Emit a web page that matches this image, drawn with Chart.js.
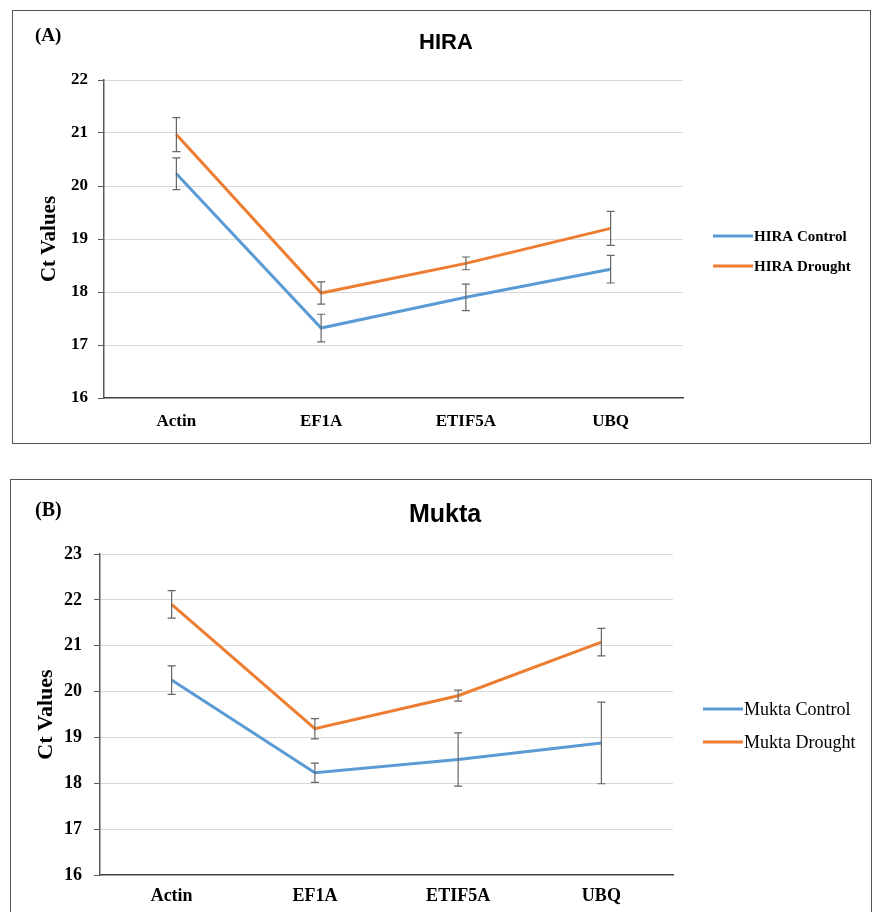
<!DOCTYPE html>
<html>
<head>
<meta charset="utf-8">
<script src="https://cdn.jsdelivr.net/npm/chart.js@4.4.1/dist/chart.umd.min.js"></script>
<style>
  body { margin: 0; background: #fff; width: 873px; height: 912px; overflow: hidden; position: relative; }
  .panel { position: absolute; border: 1px solid #555; background: #fff; }
  .panel canvas { position: absolute; left: 0; top: 0; }
  .tag { position: absolute; font-family: "Liberation Serif", serif; font-weight: bold; z-index: 2; }
  .title { position: absolute; width: 300px; text-align: center; font-family: "Liberation Sans", Arial, sans-serif; font-weight: bold; z-index: 2; }
</style>
</head>
<body>
<div class="panel" style="left:12px; top:10px; width:857px; height:432px;">
  <div class="tag" style="left:22px; top:13px; font-size:19px;">(A)</div>
  <div class="title" style="left:283px; top:18px; font-size:22px; line-height:26px;">HIRA</div>
  <canvas id="chartA" width="857" height="432"></canvas>
</div>
<div class="panel" style="left:10px; top:479px; width:860px; height:440px;">
  <div class="tag" style="left:24px; top:18px; font-size:20px;">(B)</div>
  <div class="title" style="left:284px; top:18px; font-size:25px; line-height:30px;">Mukta</div>
  <canvas id="chartB" width="860" height="440"></canvas>
</div>
<script>
// data
const categories = ['Actin', 'EF1A', 'ETIF5A', 'UBQ'];

const hiraControl = [20.23, 17.32, 17.9, 18.43];
const hiraControlErr = [0.3, 0.26, 0.25, 0.26];
const hiraDrought = [20.97, 17.98, 18.54, 19.2];
const hiraDroughtErr = [0.32, 0.21, 0.12, 0.32];

const muktaControl = [20.25, 18.23, 18.52, 18.88];
const muktaControlErr = [0.31, 0.21, 0.58, 0.89];
const muktaDrought = [21.9, 19.19, 19.91, 21.08];
const muktaDroughtErr = [0.3, 0.22, 0.12, 0.3];

const blue = '#5B9BD5';
const orange = '#ED7D31';
const serif = '"Liberation Serif", "Times New Roman", serif';

// draws the error bars from dataset.err through the y scale
const errorBars = {
    id: 'errorBars',
    afterDatasetsDraw(chart) {
        const ctx = chart.ctx;
        const yScale = chart.scales.y;
        ctx.save();
        ctx.strokeStyle = '#666';
        ctx.lineWidth = 1.2;
        chart.data.datasets.forEach((ds, i) => {
            const meta = chart.getDatasetMeta(i);
            meta.data.forEach((pt, j) => {
                const e = ds.err[j];
                const top = yScale.getPixelForValue(ds.data[j] + e);
                const bot = yScale.getPixelForValue(ds.data[j] - e);
                ctx.beginPath();
                ctx.moveTo(pt.x, top); ctx.lineTo(pt.x, bot);
                ctx.moveTo(pt.x - 4, top); ctx.lineTo(pt.x + 4, top);
                ctx.moveTo(pt.x - 4, bot); ctx.lineTo(pt.x + 4, bot);
                ctx.stroke();
            });
        });
        ctx.restore();
    }
};

// legend placed to the right, like the excel one
const sideLegend = {
    id: 'sideLegend',
    afterDraw(chart, args, opts) {
        const ctx = chart.ctx;
        ctx.save();
        ctx.font = opts.font;
        ctx.textBaseline = 'middle';
        ctx.fillStyle = '#000';
        chart.data.datasets.forEach((ds, i) => {
            const y = opts.y + i * opts.gap;
            ctx.strokeStyle = ds.borderColor;
            ctx.lineWidth = 3;
            ctx.beginPath();
            ctx.moveTo(opts.x, y);
            ctx.lineTo(opts.x + opts.len, y);
            ctx.stroke();
            ctx.fillText(ds.label, opts.x + opts.len + 1, y + 1);
        });
        ctx.restore();
    }
};

function makeChart(id, cfg) {
    return new Chart(document.getElementById(id).getContext('2d'), {
        type: 'line',
        data: {
            labels: categories,
            datasets: cfg.series.map(s => ({
                label: s.label,
                data: s.data,
                err: s.err,
                borderColor: s.color,
                backgroundColor: s.color,
                borderWidth: 3,
                pointRadius: 0,
                tension: 0
            }))
        },
        options: {
            responsive: false,
            animation: false,
            layout: { padding: { left: 0, right: cfg.padRight, top: cfg.padTop, bottom: 0 } },
            plugins: {
                legend: { display: false },
                tooltip: { enabled: false },
                sideLegend: cfg.legend
            },
            scales: {
                x: {
                    offset: true,
                    grid: { display: false, drawTicks: false },
                    border: { display: true, color: '#404040', width: 1.5 },
                    ticks: { color: '#000', padding: cfg.xPad, font: { family: serif, size: cfg.tickSize, weight: 'bold' } },
                    afterFit: (s) => { s.height = cfg.xHeight; }
                },
                y: {
                    min: cfg.yMin,
                    max: cfg.yMax,
                    ticks: { stepSize: 1, color: '#000', padding: cfg.yPad, font: { family: serif, size: cfg.tickSize, weight: 'bold' } },
                    grid: {
                        color: (c) => c.tick && c.tick.value === cfg.yMin ? 'rgba(0,0,0,0)' : '#d9d9d9',
                        tickColor: '#595959',
                        tickLength: 6,
                        lineWidth: 1
                    },
                    border: { display: true, color: '#595959', width: 1.5 },
                    title: {
                        display: true,
                        text: 'Ct Values',
                        color: '#000',
                        font: { family: serif, size: cfg.yTitleSize, weight: 'bold' },
                        padding: { top: cfg.yTitlePad, bottom: 0 }
                    },
                    afterFit: (s) => { s.width = cfg.yWidth; }
                }
            }
        },
        plugins: [errorBars, sideLegend]
    });
}

makeChart('chartA', {
    padTop: 69,
    yMin: 16, yMax: 22,
    tickSize: 17,
    yTitleSize: 21,
    yTitlePad: 24,
    yWidth: 91,
    yPad: 10,
    xHeight: 45,
    xPad: 13,
    padRight: 187,
    series: [
        { label: 'HIRA Control', data: hiraControl, err: hiraControlErr, color: blue },
        { label: 'HIRA Drought', data: hiraDrought, err: hiraDroughtErr, color: orange }
    ],
    legend: { x: 700, y: 225, gap: 30, len: 40, font: 'bold 15px ' + serif }
});

makeChart('chartB', {
    padTop: 74,
    yMin: 16, yMax: 23,
    tickSize: 18,
    yTitleSize: 22,
    yTitlePad: 22,
    yWidth: 89,
    yPad: 12,
    xHeight: 45,
    xPad: 11,
    padRight: 198,
    series: [
        { label: 'Mukta Control', data: muktaControl, err: muktaControlErr, color: blue },
        { label: 'Mukta Drought', data: muktaDrought, err: muktaDroughtErr, color: orange }
    ],
    legend: { x: 692, y: 229, gap: 33, len: 40, font: '18px ' + serif }
});
</script>
</body>
</html>
